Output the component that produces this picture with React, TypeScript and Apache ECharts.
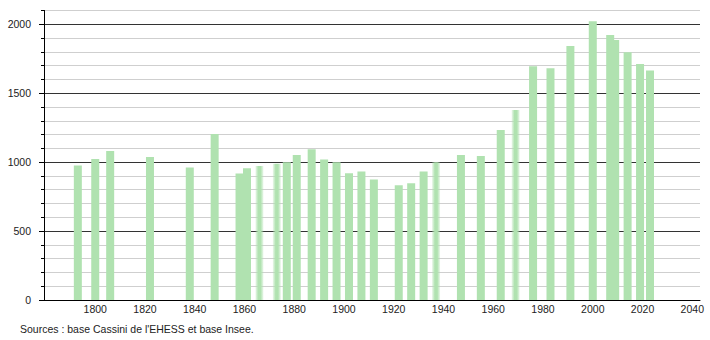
import React, { useEffect, useRef } from "react";
import * as echarts from "echarts";

const years = [1793, 1800, 1806, 1822, 1838, 1848, 1858, 1861, 1866, 1873, 1877, 1881, 1887, 1892, 1897, 1902, 1907, 1912, 1922, 1927, 1932, 1937, 1947, 1955, 1963, 1969, 1976, 1983, 1991, 2000, 2007, 2009, 2014, 2019, 2023];
const population = [975, 1023, 1081, 1037, 962, 1204, 917, 955, 972, 989, 999, 1052, 1093, 1020, 999, 919, 933, 875, 832, 846, 933, 999, 1052, 1045, 1233, 1378, 1695, 1681, 1843, 2022, 1923, 1886, 1797, 1712, 1664];
const softYears = [1866, 1873, 1937, 1969];
const xLabels = [1800, 1820, 1840, 1860, 1880, 1900, 1920, 1940, 1960, 1980, 2000, 2020, 2040];
const yLabels = [0, 500, 1000, 1500, 2000];
const sourceText = "Sources : base Cassini de l'EHESS et base Insee.";

const BAR = "#b0e2b0";

export default function App() {
  const ref = useRef<HTMLDivElement>(null);
  useEffect(() => {
    if (!ref.current) return;
    const chart = echarts.init(ref.current, null, { renderer: "svg" });
    const soft = new echarts.graphic.LinearGradient(0, 0, 1, 0, [
      { offset: 0, color: "rgba(176,226,176,0.25)" },
      { offset: 0.35, color: BAR },
      { offset: 0.65, color: BAR },
      { offset: 1, color: "rgba(176,226,176,0.25)" },
    ]);
    const data = years.map((y, i) => ({
      value: [y, population[i]],
      itemStyle: softYears.includes(y) ? { color: soft } : undefined,
    }));
    const font = "'Liberation Sans', Arial, sans-serif";
    chart.setOption({
      animation: false,
      grid: { left: 44, right: 10, top: 10.5, bottom: 40, containLabel: false },
      xAxis: {
        type: "value",
        min: 1779.4,
        max: 2043.1,
        axisLine: { show: true, lineStyle: { color: "#000", width: 1 } },
        axisTick: { show: false },
        splitLine: { show: false },
        axisLabel: {
          customValues: xLabels,
          formatter: (v: number) => String(v),
          color: "#222",
          fontSize: 10.5,
          fontFamily: font,
          margin: 3,
        },
      },
      yAxis: [
        {
          type: "value",
          min: 0,
          max: 2100,
          interval: 100,
          position: "left",
          axisLine: { show: true, lineStyle: { color: "#000" } },
          axisTick: { show: true, length: 3, lineStyle: { color: "#000" } },
          axisLabel: { show: false },
          splitLine: {
            show: true,
            lineStyle: { color: ["#333", "#cfcfcf", "#cfcfcf", "#cfcfcf", "#cfcfcf"], width: 1 },
          },
        },
        {
          type: "value",
          min: 0,
          max: 2100,
          position: "left",
          axisLine: { show: true, lineStyle: { color: "#000" } },
          axisTick: { show: true, length: 5, customValues: yLabels, lineStyle: { color: "#000" } },
          axisLabel: {
            customValues: yLabels,
            formatter: (v: number) => String(v),
            color: "#222",
            fontSize: 10.5,
            fontFamily: font,
            margin: 13,
          },
          splitLine: { show: false },
        },
      ],
      series: [
        {
          type: "bar",
          data,
          barWidth: 8,
          itemStyle: { color: BAR },
        },
      ],
      graphic: [
        {
          type: "text",
          left: 20,
          top: 323,
          style: { text: sourceText, fill: "#222", font: `10.5px ${font}` },
        },
      ],
    });
    return () => chart.dispose();
  }, []);
  return <div ref={ref} style={{ position: "fixed", left: 0, top: 0, width: 710, height: 340, background: "#fff" }} />;
}
